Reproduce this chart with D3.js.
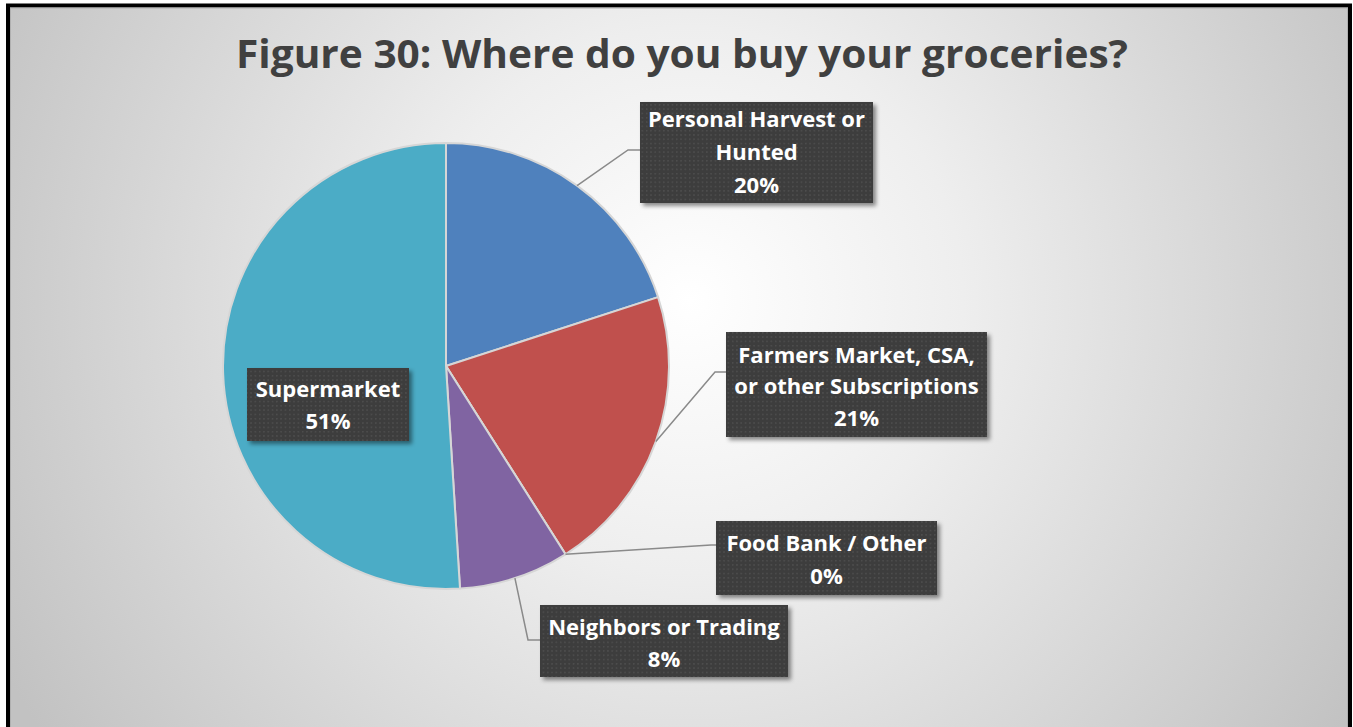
<!DOCTYPE html>
<html>
<head>
<meta charset="utf-8">
<script src="https://cdn.jsdelivr.net/npm/d3@7"></script>
<style>
  html, body { margin: 0; padding: 0; background: #ffffff; }
  svg { display: block; }
</style>
</head>
<body>
<svg id="chart" width="1353" height="727"></svg>
<script>
// Survey answers, in clockwise order starting at 12 o'clock
const categories = [
  "Personal Harvest or Hunted",
  "Farmers Market, CSA, or other Subscriptions",
  "Food Bank / Other",
  "Neighbors or Trading",
  "Supermarket"
];
const percents = [20, 21, 0, 8, 51];
const labelLines = [
  ["Personal Harvest or", "Hunted"],
  ["Farmers Market, CSA,", "or other Subscriptions"],
  ["Food Bank / Other"],
  ["Neighbors or Trading"],
  ["Supermarket"]
];
const sliceColors = ["#4f81bd", "#c0504d", "#9bbb59", "#8064a2", "#4bacc6"];
const title = "Figure 30: Where do you buy your groceries?";

const W = 1353, H = 727;
const svg = d3.select("#chart");
const defs = svg.append("defs");

// panel background: soft radial light
const bg = defs.append("radialGradient")
  .attr("id", "bgGrad").attr("gradientUnits", "userSpaceOnUse")
  .attr("cx", 690).attr("cy", 300).attr("r", 780);
bg.append("stop").attr("offset", "0").attr("stop-color", "#ffffff");
bg.append("stop").attr("offset", "0.35").attr("stop-color", "#eeeeee");
bg.append("stop").attr("offset", "1").attr("stop-color", "#c2c2c2");

// dotted dark fill for the data label boxes
const pat = defs.append("pattern")
  .attr("id", "dots").attr("patternUnits", "userSpaceOnUse")
  .attr("width", 4.3).attr("height", 4.3);
pat.append("rect").attr("width", 4.3).attr("height", 4.3).attr("fill", "#3d3d3d");
pat.append("rect").attr("x", 1).attr("y", 1).attr("width", 1.3).attr("height", 1.3).attr("fill", "#555555");

const shadow = defs.append("filter").attr("id", "boxShadow")
  .attr("x", "-10%").attr("y", "-10%").attr("width", "130%").attr("height", "140%");
shadow.append("feDropShadow")
  .attr("dx", 3).attr("dy", 3).attr("stdDeviation", 2)
  .attr("flood-color", "#000").attr("flood-opacity", 0.45);

// panel + frame
svg.append("rect").attr("x", 8).attr("y", 5.5).attr("width", 1342).attr("height", 760)
  .attr("fill", "url(#bgGrad)").attr("stroke", "#000").attr("stroke-width", 4);
svg.append("rect").attr("x", 10.5).attr("y", 8).attr("width", 1337).attr("height", 760)
  .attr("fill", "none").attr("stroke", "#b0b0b0").attr("stroke-width", 1);

// title
svg.append("text")
  .attr("x", 682).attr("y", 68)
  .attr("text-anchor", "middle")
  .attr("font-family", "'Open Sans', Lato, sans-serif")
  .attr("font-weight", "bold")
  .attr("font-size", 39)
  .attr("fill", "#404040")
  .attr("textLength", 892).attr("lengthAdjust", "spacingAndGlyphs")
  .text(title);

// pie
const cx = 446, cy = 366, R = 223;
const pie = d3.pie().sort(null).value(d => d);
const arcs = pie(percents);
const arc = d3.arc().innerRadius(0).outerRadius(R);

const g = svg.append("g").attr("transform", `translate(${cx},${cy})`);
g.selectAll("path").data(arcs).enter().append("path")
  .attr("d", arc)
  .attr("fill", (d, i) => sliceColors[i])
  .attr("stroke", "#d6d6d6")
  .attr("stroke-width", 2)
  .attr("stroke-linejoin", "round");

// label placement (box rectangles and leader elbows)
const layout = [
  { box: [640, 102, 233, 101], elbow: [628, 150], lineY: [119, 152, 185] },
  { box: [726, 332, 261, 105], elbow: [715, 372], lineY: [355, 386, 418] },
  { box: [716, 521, 221, 74],  elbow: [711, 545], lineY: [543, 576] },
  { box: [540, 605, 248, 72],  elbow: [528, 640], lineY: [627, 659] },
  { box: [247, 368, 162, 73],  elbow: null,       lineY: [389, 421] }
];

// leader lines from the arc edge
const leaders = svg.append("g");
arcs.forEach((d, i) => {
  const L = layout[i];
  if (!L.elbow) return;
  const a = (d.startAngle + d.endAngle) / 2;
  const sx = cx + R * Math.sin(a), sy = cy - R * Math.cos(a);
  const bx = L.box[0];
  leaders.append("polyline")
    .attr("points", `${sx},${sy} ${L.elbow[0]},${L.elbow[1]} ${bx},${L.elbow[1]}`)
    .attr("fill", "none")
    .attr("stroke", "#8a8a8a")
    .attr("stroke-width", 1.5);
});

// label boxes
const labels = svg.append("g");
arcs.forEach((d, i) => {
  const L = layout[i];
  const [x, y, w, h] = L.box;
  labels.append("rect")
    .attr("x", x).attr("y", y).attr("width", w).attr("height", h)
    .attr("fill", "url(#dots)")
    .attr("filter", "url(#boxShadow)");
  const lines = labelLines[i].concat([d3.format(".0f")(d.data) + "%"]);
  lines.forEach((t, k) => {
    labels.append("text")
      .attr("x", x + w / 2)
      .attr("y", L.lineY[k])
      .attr("dy", "0.35em")
      .attr("text-anchor", "middle")
      .attr("font-family", "'Open Sans', Lato, sans-serif")
      .attr("font-weight", "bold")
      .attr("font-size", 22)
      .attr("fill", "#ffffff")
      .text(t);
  });
});
</script>
</body>
</html>
